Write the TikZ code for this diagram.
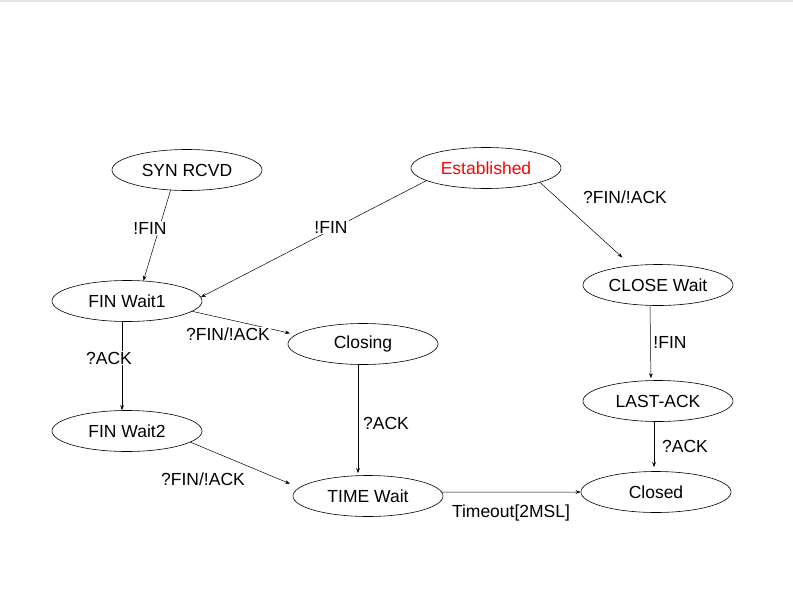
\documentclass[tikz,border=0pt]{standalone}
\usepackage{fontspec}
\setmainfont{Liberation Sans}
\usetikzlibrary{arrows.meta,shapes.geometric}

\begin{document}
\begin{tikzpicture}[
    x=1pt, y=-1pt,
    every node/.style={font=\fontsize{17.5}{20}\selectfont},
    state/.style={draw, ellipse, minimum width=150pt, minimum height=41pt, inner sep=0pt, line width=0.6pt},
    flow/.style={-{Stealth[length=5pt,width=3.6pt]}, line width=0.5pt},
    lbl/.style={fill=white, inner sep=1pt}
]
\useasboundingbox (0,0) rectangle (793,595);
\draw[black!10, line width=1.5pt] (0,1) -- (793,1);
\node[state] (syn) at (187,170) {SYN RCVD};
\node[state, text=red] (est) at (486,168) {Established};
\node[state] (fw1) at (127,301) {FIN Wait1};
\node[state] (closing) at (363,344) {Closing};
\node[state] (cw) at (658,285) {CLOSE Wait};
\node[state] (fw2) at (127,431) {FIN Wait2};
\node[state] (tw) at (368,496) {TIME Wait};
\node[state] (la) at (658,401) {LAST-ACK};
\node[state] (closed) at (656,492) {Closed};
\draw[flow] (syn.231) -- (fw1.51);
\draw[flow] (est.192) -- (fw1.3);
\draw[flow, shorten >=12pt] (est.-15) -- (cw.144);
\draw[flow, shorten >=6pt] (fw1.-9) -- (closing.172);
\draw[flow] ([xshift=-5pt]fw1.south) -- ([xshift=-5pt]fw2.north);
\draw[flow, shorten >=2pt] ([xshift=-5pt]closing.south) -- ([xshift=-10pt]tw.north);
\draw[flow, shorten >=10pt] (fw2.-10) -- (tw.173);
\draw[flow] (tw.3) -- (closed.west);
\draw[flow, shorten >=2pt] ([xshift=-8pt]cw.south) -- ([xshift=-7pt]la.north);
\draw[flow, shorten >=4pt] ([xshift=-4pt]la.south) -- ([xshift=-2pt]closed.north);
% transition labels
\node[lbl] (synfin) at (150,228) {!FIN};
\node[lbl] (estfin) at (331,227) {!FIN};
\node[lbl] (estack) at (625,197) {?FIN/!ACK};
\node[lbl] (fw1fin) at (228,334) {?FIN/!ACK};
\node[lbl] (fw1ack) at (109,358) {?ACK};
\node[lbl] (clack) at (386,423) {?ACK};
\node[lbl] (fw2fin) at (203,479) {?FIN/!ACK};
\node[lbl] (twout) at (511,513) {Timeout[2MSL]};
\node[lbl] (cwfin) at (670,342) {!FIN};
\node[lbl] (laack) at (685,446) {?ACK};
\end{tikzpicture}
\end{document}
